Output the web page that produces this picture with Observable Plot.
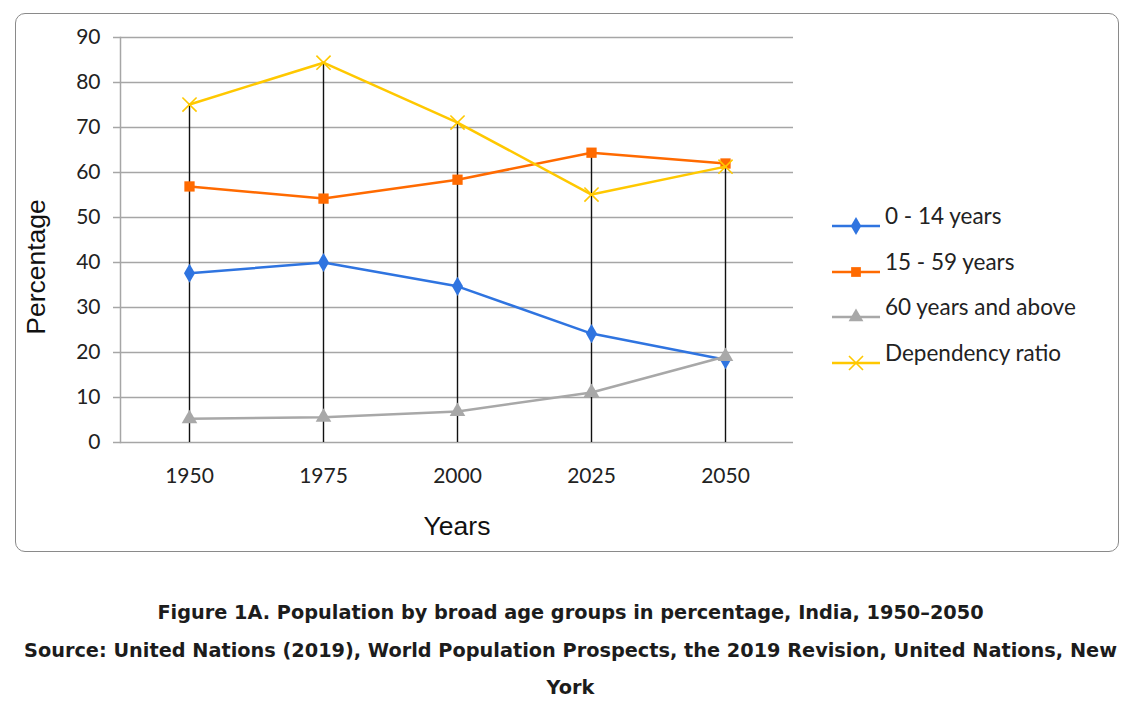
<!DOCTYPE html>
<html>
<head>
<meta charset="utf-8">
<script src="https://cdn.jsdelivr.net/npm/d3@7"></script>
<script src="https://cdn.jsdelivr.net/npm/@observablehq/plot@0.6"></script>
<style>
  html, body { margin: 0; padding: 0; background: #fff; }
  #page { position: relative; width: 1141px; height: 710px; overflow: hidden; font-family: Lato, "Open Sans", sans-serif; }
  #box { position: absolute; left: 15px; top: 13px; width: 1102px; height: 537px; border: 1px solid #8a8a8a; border-radius: 10px; }
  #chart { position: absolute; left: 0; top: 0; }
  #legend { position: absolute; left: 832px; top: 203px; }
  .item { position: relative; height: 45.7px; display: flex; align-items: center; }
  .item svg { display: block; margin-right: 5px; }
  .item span { font-size: 22.5px; color: #222; white-space: nowrap; line-height: 26px; margin-top: -20px; }
  .cap { position: absolute; left: 0; width: 1141px; text-align: center; font-family: "DejaVu Sans", sans-serif; font-weight: 700; font-size: 18px; color: #1c1c1c; white-space: nowrap; }
</style>
</head>
<body>
<div id="page">
  <div id="box"></div>
  <div id="chart"></div>
  <div id="legend"></div>
  <div class="cap" id="cap1" style="top:601px"></div>
  <div class="cap" id="cap2" style="top:639px"></div>
  <div class="cap" id="cap3" style="top:676px"></div>
</div>
<script>
// ---- data ----
const years = [1950, 1975, 2000, 2025, 2050];
const age0to14 = [37.6, 40.0, 34.7, 24.2, 18.4];
const age15to59 = [56.9, 54.2, 58.4, 64.4, 62.0];
const age60plus = [5.3, 5.6, 6.9, 11.1, 19.1];
const dependencyRatio = [75.1, 84.4, 71.1, 55.1, 61.3];
const seriesNames = ["0 - 14 years", "15 - 59 years", "60 years and above", "Dependency ratio"];
const seriesValues = [age0to14, age15to59, age60plus, dependencyRatio];
const seriesColors = ["#2f74e0", "#ff6a00", "#a8a8a8", "#ffc800"];
const seriesSymbols = ["diamond", "square", "triangle", "times"];
const yTicks = [0, 10, 20, 30, 40, 50, 60, 70, 80, 90];
const captionLines = [
  "Figure 1A. Population by broad age groups in percentage, India, 1950–2050",
  "Source: United Nations (2019), World Population Prospects, the 2019 Revision, United Nations, New",
  "York"
];

// ---- tables ----
const series = seriesNames.map((name, i) => ({
  name, color: seriesColors[i], symbol: seriesSymbols[i],
  rows: years.map((year, j) => ({year, value: seriesValues[i][j], series: name}))
}));
const dropRows = years.map((year, j) => ({year, top: d3.max(seriesValues, s => s[j])}));

const marks = [
  Plot.ruleY(yTicks, {stroke: "#a6a6a6", strokeWidth: 1.5, insetLeft: -7}),
  Plot.frame({anchor: "left", stroke: "#a6a6a6", strokeWidth: 1.5}),
  Plot.ruleX(dropRows, {x: "year", y1: 0, y2: "top", stroke: "#111", strokeWidth: 1.4}),
];
for (const s of series) {
  marks.push(Plot.line(s.rows, {x: "year", y: "value", stroke: s.color, strokeWidth: 2.5}));
  if (s.symbol === "times") {
    marks.push(Plot.dot(s.rows, {x: "year", y: "value", symbol: s.symbol, stroke: s.color, strokeWidth: 1.6, r: 6.5}));
  } else {
    marks.push(Plot.dot(s.rows, {x: "year", y: "value", symbol: s.symbol, fill: s.color, stroke: "none", r: s.symbol === "square" ? 5.8 : 5.8}));
  }
}
marks.push(Plot.axisY({ticks: yTicks, tickSize: 0, tickPadding: 20, fontSize: 21, label: "Percentage", labelAnchor: "center", labelArrow: "none", labelOffset: 94}));
marks.push(Plot.axisX({tickSize: 0, tickPadding: 26, fontSize: 21, label: "Years", labelAnchor: "center", labelArrow: "none", labelOffset: 92, tickFormat: d => String(d)}));

const chart = Plot.plot({
  width: 800,
  height: 555,
  marginLeft: 120,
  marginRight: 7,
  marginTop: 37,
  marginBottom: 113,
  style: {fontFamily: "Lato, sans-serif", color: "#222", background: "transparent"},
  x: {type: "point", domain: years, padding: 0.5},
  y: {domain: [0, 90]},
  marks
});
// axis title styling
const yl = chart.querySelector("g[aria-label='y-axis label']");
const xl = chart.querySelector("g[aria-label='x-axis label']");
[yl, xl].forEach(g => { if (g) { g.setAttribute("font-family", "'Liberation Sans', Arial, sans-serif"); g.setAttribute("fill", "#111"); g.querySelectorAll("text").forEach(t => t.setAttribute("font-size", 26.5)); } });
if (yl) yl.setAttribute("transform", "translate(0,27) " + (yl.getAttribute("transform") || ""));
document.getElementById("chart").appendChild(chart);

// ---- legend ----
const legend = document.getElementById("legend");
for (const s of series) {
  const item = document.createElement("div");
  item.className = "item";
  const sym = d3.symbol(s.symbol === "diamond" ? d3.symbolDiamond : s.symbol === "square" ? d3.symbolSquare : s.symbol === "triangle" ? d3.symbolTriangle : d3.symbolTimes, s.symbol === "times" ? 130 : 95)();
  const markerAttr = s.symbol === "times" ? `fill="none" stroke="${s.color}" stroke-width="1.6"` : `fill="${s.color}"`;
  item.innerHTML = `<svg width="48" height="20"><line x1="0" x2="48" y1="10" y2="10" stroke="${s.color}" stroke-width="2.5"/><path transform="translate(24,10)" d="${sym}" ${markerAttr}/></svg><span>${s.name}</span>`;
  legend.appendChild(item);
}
// ---- caption (fit line 1 to the reference width) ----
captionLines.forEach((t, i) => document.getElementById("cap" + (i + 1)).textContent = t);
const c1 = document.getElementById("cap1");
const probe = document.createElement("span");
probe.style.cssText = "font-family:'DejaVu Sans',sans-serif;font-weight:700;font-size:18px;white-space:nowrap;position:absolute;visibility:hidden";
probe.textContent = captionLines[0];
document.body.appendChild(probe);
const w = probe.getBoundingClientRect().width;
probe.remove();
const fs = Math.min(21, 18 * 827 / w);
document.querySelectorAll(".cap").forEach(el => el.style.fontSize = fs + "px");
</script>
</body>
</html>
